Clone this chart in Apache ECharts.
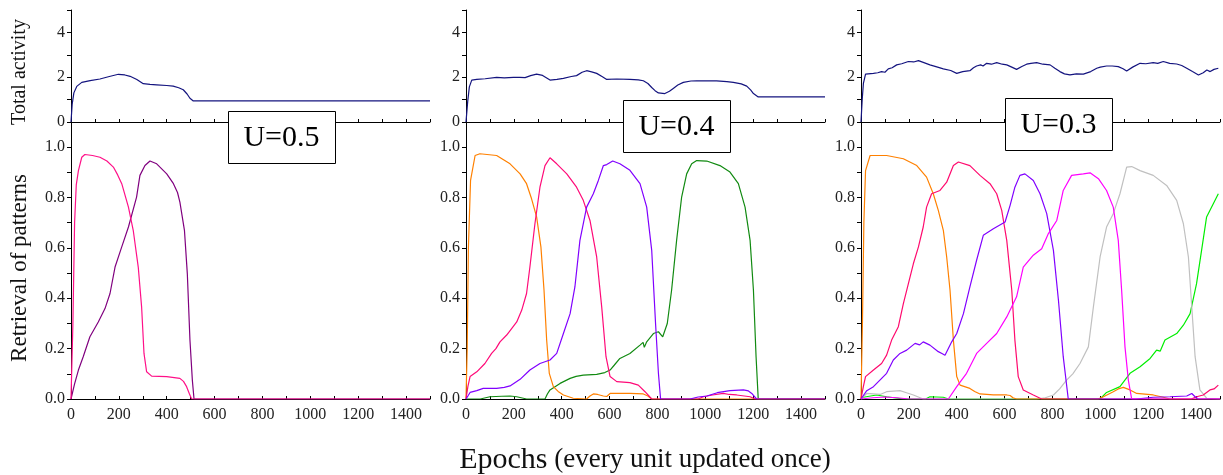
<!DOCTYPE html>
<html>
<head>
<meta charset="utf-8">
<script src="https://cdn.jsdelivr.net/npm/echarts@6/dist/echarts.min.js"></script>
<style>html,body{margin:0;padding:0;background:#fff}#c{width:1223px;height:475px}</style>
</head>
<body>
<div id="c"></div>
<script>
// ---- Data (epoch, value) ----
const panelLabels = ['U=0.5', 'U=0.4', 'U=0.3'];
const xTickLabels = [0, 200, 400, 600, 800, 1000, 1200, 1400];
const activityTicks = [0, 2, 4];
const retrievalTicks = [0.0, 0.2, 0.4, 0.6, 0.8, 1.0];

const u05Activity = [[0,0],[5,0.8],[12,1.3],[24,1.59],[45,1.77],[80,1.85],[121,1.92],[160,2.03],[198,2.13],[225,2.1],[247,2.04],[275,1.9],[302,1.71],[330,1.68],[358,1.66],[400,1.63],[427,1.60],[450,1.53],[469,1.44],[485,1.25],[497,1.06],[511,0.94],[1500,0.94]];
const u05Pink = [[0,0],[8,0.3],[15,0.7],[22,0.85],[31,0.907],[45,0.96],[58,0.971],[90,0.967],[121,0.96],[150,0.945],[177,0.921],[195,0.89],[212,0.855],[240,0.762],[260,0.67],[281,0.524],[295,0.366],[305,0.181],[316,0.108],[337,0.091],[400,0.0885],[455,0.082],[470,0.07],[483,0.049],[495,0.02],[504,0],[1500,0]];
const u05Purple = [[0,0],[15,0.06],[31,0.115],[51,0.168],[79,0.247],[114,0.306],[142,0.359],[163,0.419],[184,0.524],[212,0.604],[240,0.683],[274,0.802],[288,0.888],[309,0.927],[330,0.945],[358,0.934],[400,0.894],[428,0.855],[445,0.82],[455,0.782],[474,0.67],[486,0.498],[497,0.234],[507,0.075],[514,0],[1500,0]];

const u04Activity = [[0,0],[7,0.9],[14,1.57],[24,1.87],[45,1.90],[80,1.93],[128,1.99],[160,1.97],[198,1.99],[225,1.99],[247,1.98],[270,2.07],[295,2.14],[320,2.08],[351,1.87],[380,1.9],[407,1.95],[440,2.03],[462,2.07],[485,2.22],[504,2.29],[525,2.24],[546,2.17],[570,2.02],[588,1.90],[630,1.92],[685,1.90],[720,1.88],[741,1.84],[760,1.72],[776,1.54],[790,1.4],[804,1.30],[831,1.27],[850,1.37],[866,1.50],[885,1.65],[908,1.77],[940,1.83],[964,1.84],[1047,1.84],[1090,1.8],[1117,1.77],[1150,1.7],[1173,1.60],[1190,1.42],[1201,1.27],[1221,1.12],[1500,1.12]];
const u04Orange = [[0,0],[5,0.2],[10,0.6],[19,0.868],[38,0.967],[58,0.974],[128,0.967],[184,0.934],[226,0.894],[253,0.855],[274,0.795],[295,0.723],[313,0.604],[326,0.432],[337,0.234],[348,0.102],[365,0.049],[385,0.03],[407,0.016],[448,0.003],[504,0],[518,0.012],[532,0.02],[550,0.018],[574,0.012],[588,0.01],[602,0.022],[685,0.022],[741,0.02],[760,0.012],[776,0],[1500,0]];
const u04Pink = [[0,0],[8,0.05],[17,0.089],[45,0.108],[79,0.141],[107,0.181],[125,0.2],[142,0.227],[170,0.254],[212,0.306],[233,0.353],[253,0.419],[267,0.524],[288,0.696],[309,0.841],[330,0.927],[351,0.958],[379,0.934],[421,0.894],[462,0.841],[490,0.789],[518,0.709],[546,0.564],[567,0.366],[585,0.168],[602,0.089],[630,0.069],[685,0.065],[720,0.055],[748,0.029],[776,0],[970,0],[992,0.009],[1030,0.016],[1075,0.022],[1100,0.018],[1131,0.016],[1187,0.009],[1208,0],[1500,0]];
const u04Violet = [[0,0],[10,0.015],[17,0.026],[45,0.033],[72,0.042],[128,0.042],[160,0.046],[184,0.052],[226,0.078],[267,0.115],[309,0.141],[351,0.155],[379,0.181],[407,0.260],[435,0.339],[455,0.445],[476,0.630],[504,0.762],[532,0.815],[553,0.868],[574,0.927],[588,0.931],[613,0.945],[643,0.934],[685,0.908],[727,0.855],[755,0.762],[776,0.590],[792,0.300],[804,0.102],[813,0],[936,0],[970,0.008],[1006,0.012],[1050,0.025],[1103,0.033],[1159,0.036],[1180,0.032],[1194,0.022],[1214,0],[1500,0]];
const u04Green = [[0,0],[60,0],[100,0.009],[150,0.011],[184,0.012],[212,0.009],[253,0],[330,0],[340,0.02],[351,0.036],[393,0.062],[435,0.082],[460,0.09],[490,0.095],[546,0.098],[580,0.105],[602,0.115],[620,0.135],[643,0.161],[685,0.181],[727,0.214],[740,0.225],[745,0.205],[755,0.227],[783,0.260],[804,0.267],[822,0.247],[841,0.300],[859,0.432],[880,0.630],[901,0.802],[922,0.894],[943,0.934],[964,0.947],[1006,0.945],[1061,0.927],[1103,0.901],[1138,0.855],[1166,0.762],[1187,0.630],[1201,0.432],[1212,0.168],[1221,0],[1500,0]];

const u03Activity = [[0,0],[5,1.0],[10,1.72],[19,2.14],[52,2.17],[70,2.2],[86,2.25],[100,2.22],[114,2.37],[130,2.42],[149,2.55],[170,2.6],[198,2.70],[220,2.68],[240,2.74],[260,2.66],[288,2.55],[320,2.45],[344,2.37],[375,2.3],[400,2.17],[425,2.25],[455,2.29],[470,2.42],[483,2.50],[500,2.55],[510,2.5],[525,2.62],[545,2.58],[567,2.65],[590,2.58],[609,2.55],[630,2.45],[650,2.35],[672,2.48],[692,2.58],[710,2.62],[734,2.65],[760,2.58],[790,2.55],[810,2.4],[831,2.25],[850,2.15],[873,2.10],[900,2.15],[929,2.14],[960,2.25],[985,2.40],[1000,2.45],[1026,2.50],[1050,2.5],[1075,2.47],[1095,2.38],[1110,2.28],[1135,2.45],[1166,2.62],[1190,2.6],[1221,2.65],[1240,2.62],[1263,2.70],[1290,2.62],[1319,2.59],[1340,2.52],[1361,2.40],[1385,2.25],[1410,2.10],[1430,2.2],[1445,2.32],[1459,2.25],[1475,2.35],[1493,2.40]];
const u03Orange = [[0,0],[6,0.3],[12,0.7],[19,0.907],[38,0.967],[107,0.967],[177,0.954],[233,0.927],[274,0.881],[302,0.815],[323,0.749],[344,0.670],[358,0.564],[372,0.432],[386,0.234],[400,0.089],[414,0.055],[455,0.042],[475,0.03],[497,0.020],[553,0.016],[609,0.016],[615,0.01],[623,0.014],[635,0.005],[650,0],[990,0],[1013,0.009],[1054,0.029],[1075,0.04],[1096,0.046],[1124,0.036],[1152,0.022],[1221,0.016],[1263,0.007],[1291,0],[1500,0]];
const u03Crimson = [[0,0],[10,0.05],[19,0.089],[52,0.115],[86,0.141],[107,0.174],[128,0.234],[156,0.287],[177,0.379],[198,0.458],[219,0.538],[240,0.604],[260,0.683],[274,0.762],[295,0.815],[330,0.828],[358,0.861],[386,0.927],[407,0.941],[455,0.927],[497,0.888],[539,0.855],[567,0.815],[588,0.749],[609,0.630],[630,0.432],[643,0.234],[657,0.089],[678,0.036],[720,0.016],[755,0],[1380,0],[1402,0.009],[1430,0.016],[1458,0.036],[1475,0.04],[1493,0.055]];
const u03Violet = [[0,0],[24,0.033],[52,0.049],[79,0.075],[107,0.102],[135,0.155],[163,0.181],[191,0.194],[226,0.221],[245,0.215],[260,0.227],[288,0.214],[323,0.188],[340,0.18],[351,0.174],[379,0.227],[400,0.260],[428,0.339],[455,0.445],[483,0.551],[511,0.650],[553,0.676],[602,0.703],[623,0.769],[643,0.841],[664,0.888],[685,0.894],[720,0.868],[748,0.815],[776,0.736],[804,0.590],[825,0.392],[845,0.168],[866,0],[1150,0],[1221,0.007],[1291,0.009],[1361,0.012],[1382,0.022],[1396,0.009],[1409,0],[1500,0]];
const u03Magenta = [[0,0],[50,0.005],[100,0.008],[150,0.005],[200,0],[365,0],[400,0.049],[441,0.102],[483,0.181],[525,0.221],[567,0.260],[609,0.326],[650,0.406],[678,0.524],[720,0.571],[755,0.597],[783,0.657],[818,0.709],[845,0.828],[880,0.888],[929,0.894],[957,0.898],[992,0.875],[1026,0.828],[1054,0.762],[1075,0.630],[1089,0.432],[1103,0.207],[1117,0.075],[1131,0],[1500,0]];
const u03Gray = [[0,0],[24,0.022],[52,0.020],[80,0.018],[107,0.029],[163,0.033],[190,0.025],[219,0.016],[260,0],[734,0],[770,0.005],[804,0.016],[830,0.04],[859,0.075],[885,0.1],[915,0.141],[950,0.207],[971,0.366],[999,0.564],[1026,0.683],[1054,0.736],[1082,0.815],[1110,0.921],[1131,0.923],[1166,0.907],[1221,0.888],[1277,0.848],[1319,0.789],[1347,0.696],[1368,0.564],[1382,0.366],[1396,0.168],[1416,0.036],[1444,0.003],[1500,0]];
const u03Lime = [[0,0],[10,0.007],[65,0.016],[107,0.009],[177,0],[270,0],[288,0.009],[344,0.007],[365,0],[999,0],[1026,0.026],[1082,0.049],[1124,0.102],[1166,0.128],[1208,0.161],[1235,0.194],[1250,0.19],[1270,0.234],[1319,0.260],[1347,0.293],[1375,0.339],[1402,0.458],[1423,0.590],[1444,0.723],[1472,0.775],[1493,0.815]];

// ---- Layout / style ----
const FONT = "'Liberation Serif','Times New Roman',serif";
const lefts = [71, 466, 861];
const W = 359;
const NAVY = '#14147f';

const grids = [], xAxes = [], yAxes = [], series = [];
lefts.forEach((l, i) => {
  grids.push({left: l, top: 10, width: W, height: 112});
  grids.push({left: l, top: 122, width: W, height: 277});
});

function xAxis(gi, showLabels) {
  return {
    type: 'value', gridIndex: gi, min: 0, max: 1500, interval: 100,
    axisLine: {onZero: false, lineStyle: {color: '#000', width: 1}},
    axisTick: {inside: true, length: 3, lineStyle: {color: '#000'}},
    axisLabel: {
      show: showLabels, margin: 8, color: '#222', fontFamily: FONT, fontSize: 16,
      formatter: v => xTickLabels.indexOf(v) >= 0 ? String(v) : ''
    },
    splitLine: {show: false}
  };
}
for (let g = 0; g < 6; g++) {
  const isTop = g % 2 === 0;
  xAxes.push(xAxis(g, !isTop));
  if (isTop) {
    yAxes.push({
      type: 'value', gridIndex: g, min: 0, max: 5, interval: 1,
      axisLine: {show: true, onZero: false, lineStyle: {color: '#000', width: 1}},
      axisTick: {show: true, length: 4, lineStyle: {color: '#000'}},
      axisLabel: {margin: 6, color: '#222', fontFamily: FONT, fontSize: 16,
        formatter: v => activityTicks.indexOf(v) >= 0 ? String(v) : ''},
      splitLine: {show: false}
    });
  } else {
    yAxes.push({
      type: 'value', gridIndex: g, min: 0, max: 1.1, interval: 0.1,
      axisLine: {show: true, onZero: false, lineStyle: {color: '#000', width: 1}},
      axisTick: {show: true, length: 4, lineStyle: {color: '#000'}},
      axisLabel: {margin: 6, color: '#222', fontFamily: FONT, fontSize: 16,
        formatter: v => {
          const k = Math.round(v * 10);
          return retrievalTicks.some(t => Math.round(t * 10) === k) ? (k / 10).toFixed(1) : '';
        }},
      splitLine: {show: false}
    });
  }
}

function line(gi, data, color) {
  series.push({
    type: 'line', xAxisIndex: gi, yAxisIndex: gi, data: data,
    showSymbol: false, symbol: 'none', smooth: false,
    lineStyle: {color: color, width: 1.2}, z: 3
  });
}
line(0, u05Activity, NAVY);
line(1, u05Purple, '#80007f');
line(1, u05Pink, '#ff1088');

line(2, u04Activity, NAVY);
line(3, u04Green, '#118a11');
line(3, u04Orange, '#ff8000');
line(3, u04Pink, '#ff0a78');
line(3, u04Violet, '#8000ff');

line(4, u03Activity, NAVY);
line(5, u03Lime, '#00ee00');
line(5, u03Gray, '#c0c0c0');
line(5, u03Orange, '#ff8000');
line(5, u03Crimson, '#ff0a6e');
line(5, u03Violet, '#8000ff');
line(5, u03Magenta, '#ff00ff');

const boxes = [[228, 111], [623, 100], [1005, 98]];
const graphic = [];
boxes.forEach((b, i) => {
  graphic.push({type: 'rect', left: b[0], top: b[1], z: 100,
    shape: {width: 107, height: 52},
    style: {fill: '#fff', stroke: '#000', lineWidth: 1}});
  graphic.push({type: 'text', x: b[0] + 53.5, y: b[1] + 27, z: 101,
    style: {text: panelLabels[i], font: '30px ' + FONT, fill: '#000',
      textAlign: 'center', textVerticalAlign: 'middle'}});
});
graphic.push({type: 'text', x: 20, y: 72, rotation: Math.PI / 2, z: 101,
  style: {text: 'Total activity', font: '20px ' + FONT, fill: '#111',
    textAlign: 'center', textVerticalAlign: 'middle'}});
graphic.push({type: 'text', x: 20, y: 268, rotation: Math.PI / 2, z: 101,
  style: {text: 'Retrieval of patterns', font: '23px ' + FONT, fill: '#111',
    textAlign: 'center', textVerticalAlign: 'middle'}});
graphic.push({type: 'text', x: 645, y: 460, z: 101,
  style: {text: '{a|Epochs}  {b|(every unit updated once)}',
    textAlign: 'center', textVerticalAlign: 'middle',
    rich: {a: {fontFamily: FONT, fontSize: 30, fill: '#111', color: '#111'},
           b: {fontFamily: FONT, fontSize: 27, fill: '#111', color: '#111'}}}});

const chart = echarts.init(document.getElementById('c'), null, {renderer: 'canvas'});
chart.setOption({
  animation: false,
  backgroundColor: '#fff',
  grid: grids, xAxis: xAxes, yAxis: yAxes, series: series, graphic: graphic
});
</script>
</body>
</html>
